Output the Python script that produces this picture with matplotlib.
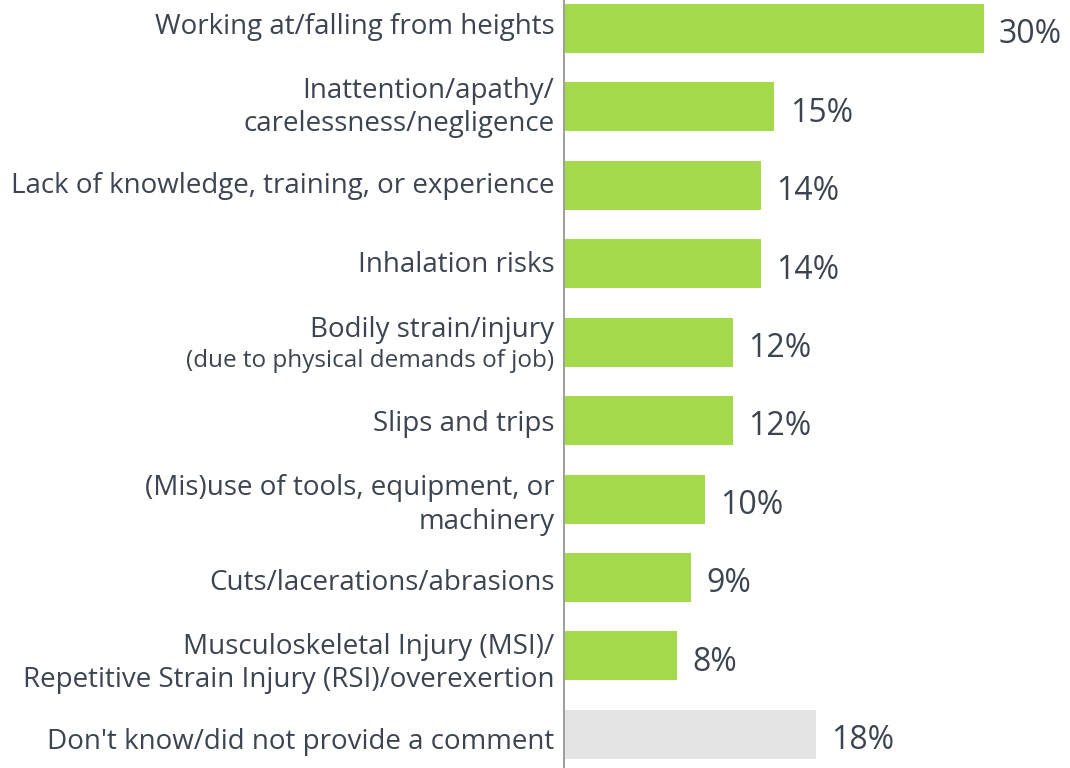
import matplotlib
matplotlib.use('Agg')
from matplotlib import pyplot as plt
from matplotlib import transforms

categories = [
    'Working at/falling from heights',
    'Inattention/apathy/\ncarelessness/negligence',
    'Lack of knowledge, training, or experience',
    'Inhalation risks',
    'Bodily strain/injury',
    'Slips and trips',
    '(Mis)use of tools, equipment, or\nmachinery',
    'Cuts/lacerations/abrasions',
    'Musculoskeletal Injury (MSI)/\nRepetitive Strain Injury (RSI)/overexertion',
    "Don't know/did not provide a comment",
]
subnote = '(due to physical demands of job)'
values = [30, 15, 14, 14, 12, 12, 10, 9, 8, 18]
value_labels = ['30%', '15%', '14%', '14%', '12%', '12%', '10%', '9%', '8%', '18%']

green = '#a3d94a'
grey = '#e4e4e4'
text_col = '#3b4450'

plt.rcParams['font.family'] = ['Open Sans', 'DejaVu Sans']

fig = plt.figure(figsize=(10.7, 7.68), dpi=100)
ax = fig.add_axes([564 / 1070, 0, 1 - 564 / 1070, 1])

pos = list(range(len(values)))
colors = [green] * (len(values) - 1) + [grey]
ax.barh(pos, values, height=0.625, color=colors, left=0.1)

ax.set_xlim(0, 36.3)
ax.set_ylim(9.43, -0.364)
ax.set_yticks([])
ax.set_xticks([])

# category labels, drawn left of the axis line
# (label rows sit on a slightly wider pitch than the bars in the original)
tr = ax.get_yaxis_transform() + transforms.ScaledTranslation(-7 / 72, 0, fig.dpi_scale_trans)
for p, c in zip(pos, categories):
    if p == 4:
        ax.text(0, p - 0.15, c, transform=tr, ha='right', va='center',
                fontsize=20, color=text_col)
        ax.text(0, p + 0.24, subnote, transform=tr, ha='right', va='center',
                fontsize=17.5, color=text_col)
        continue
    y = p * 1.013 - (0.005 if '\n' in c else 0.02)
    ax.text(0, y, c, transform=tr, ha='right', va='center',
            fontsize=20, color=text_col, linespacing=1.27)

for p, v, s in zip(pos, values, value_labels):
    ax.annotate(s, (v + 0.1, p), xytext=(11, -4.5), textcoords='offset points',
                ha='left', va='center', fontsize=23, color=text_col)

for side in ['top', 'right', 'bottom']:
    ax.spines[side].set_visible(False)
ax.spines['left'].set_color('#8c8c8c')
ax.spines['left'].set_linewidth(1.2)

fig.savefig('out.png', dpi=100)
